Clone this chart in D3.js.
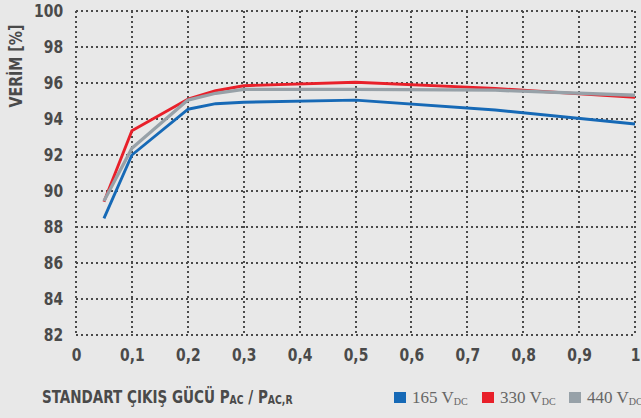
<!DOCTYPE html>
<html lang="tr">
<head>
  <meta charset="utf-8" />
  <title>Verim</title>
  <script src="https://cdn.jsdelivr.net/npm/d3@7"></script>
  <style>
    html, body { margin:0; padding:0; background:#e8e8e8; overflow:hidden; }
    svg text { font-family:"DejaVu Sans Condensed", "Roboto", sans-serif; }
    .tick text { font-weight:700; font-size:18px; fill:#4a4a4a; }
    .lab { font-weight:700; font-size:17.5px; fill:#4a4a4a; }
    .leg { font-family:"Liberation Serif", "DejaVu Serif", serif; font-size:17px; fill:#666; }
  </style>
</head>
<body>
<div id="chart"></div>
<script>
(function () {

  // --- data ------------------------------------------------------------------
  const loads   = [0.05, 0.1, 0.2, 0.25, 0.3, 0.5, 0.75, 1.0];
  const eff165  = [88.48, 92.0, 94.54, 94.85, 94.93, 95.05, 94.5, 93.72];
  const eff330  = [89.4, 93.35, 95.1, 95.57, 95.85, 96.04, 95.7, 95.2];
  const eff440  = [89.45, 92.37, 95.05, 95.43, 95.65, 95.65, 95.6, 95.32];
  const seriesNames  = ["165", "330", "440"];
  const seriesColors = ["#1669b6", "#e8202a", "#97a1a8"];
  const xTicks = [0, 0.1, 0.2, 0.3, 0.4, 0.5, 0.6, 0.7, 0.8, 0.9, 1];
  const yTicks = [82, 84, 86, 88, 90, 92, 94, 96, 98, 100];

  // --- chart -----------------------------------------------------------------
  const W = 641, H = 418;
  const margin = {top:11, right:6, bottom:83, left:76};
  const innerH = H - margin.top - margin.bottom;
  const squeeze = "scale(0.86,1)";   // fake a condensed face

  const svg = d3.select("#chart").append("svg")
    .attr("width", W).attr("height", H);

  const g = svg.append("g")
    .attr("transform", `translate(${margin.left},${margin.top})`);

  const x = d3.scaleLinear().domain([0, 1]).range([0, 559]);
  const y = d3.scaleLinear().domain([82, 100]).range([innerH, 0]);

  const fmtX = d => d === 0 ? "0" : d === 1 ? "1" : d3.format(".1f")(d).replace(".", ",");

  // gridlines (dotted), snapped to whole pixels so the dots stay crisp
  const dotted = sel => sel
    .attr("stroke", "#4a4a4a")
    .attr("stroke-width", 2)
    .attr("stroke-dasharray", "2,3")
    .attr("shape-rendering", "crispEdges");

  g.append("g")
    .selectAll("line").data(yTicks).join("line")
    .attr("x1", 0).attr("x2", Math.round(x(1)))
    .attr("y1", d => Math.round(y(d))).attr("y2", d => Math.round(y(d)))
    .call(dotted);
  g.append("g")
    .selectAll("line").data(xTicks).join("line")
    .attr("x1", d => Math.round(x(d))).attr("x2", d => Math.round(x(d)))
    .attr("y1", 0).attr("y2", innerH)
    .call(dotted);

  // axes
  const yAxis = g.append("g")
    .call(d3.axisLeft(y).tickValues(yTicks).tickSize(0).tickPadding(15));
  yAxis.select(".domain").remove();
  yAxis.selectAll("text").attr("transform", squeeze);

  const xAxis = g.append("g").attr("transform", `translate(0,${innerH})`)
    .call(d3.axisBottom(x).tickValues(xTicks).tickFormat(fmtX).tickSize(0).tickPadding(13));
  xAxis.select(".domain").remove();
  xAxis.selectAll("text").attr("transform", squeeze);

  // lines
  const line = d3.line()
    .x((d, i) => x(loads[i]))
    .y(d => y(d));

  [eff165, eff330, eff440].forEach((vals, k) => {
    g.append("path")
      .datum(vals)
      .attr("fill", "none")
      .attr("stroke", seriesColors[k])
      .attr("stroke-width", k === 2 ? 3.3 : 2.9)
      .attr("stroke-linejoin", "round")
      .attr("d", line);
  });

  // axis titles
  svg.append("text").attr("class", "lab")
    .attr("transform", "translate(22,66) rotate(-90) scale(0.9,1)")
    .attr("text-anchor", "middle")
    .text("VERİM [%]");

  const xt = svg.append("text").attr("class", "lab")
    .attr("transform", "translate(42,403) " + squeeze);
  xt.append("tspan").text("STANDART ÇIKIŞ GÜCÜ  P");
  xt.append("tspan").attr("font-size", 12).attr("dy", 1).text("AC");
  xt.append("tspan").attr("dy", -1).text(" / P");
  xt.append("tspan").attr("font-size", 12).attr("dy", 1).text("AC,R");

  // legend
  const legX = [394, 482, 569];
  seriesNames.forEach((name, k) => {
    svg.append("rect")
      .attr("x", legX[k]).attr("y", 392)
      .attr("width", 12).attr("height", 11)
      .attr("fill", seriesColors[k]);
    const t = svg.append("text").attr("class", "leg")
      .attr("x", legX[k] + 18).attr("y", 403);
    t.append("tspan").text(name + " V");
    t.append("tspan").attr("font-size", 10).attr("dy", 2).text("DC");
  });

})();
</script>
</body>
</html>
